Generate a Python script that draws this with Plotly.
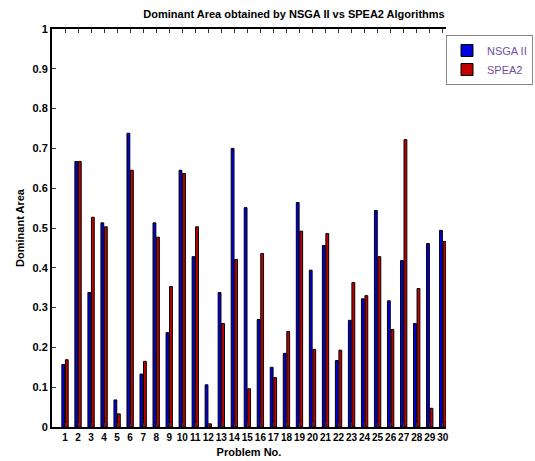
import plotly.graph_objects as go

problems = list(range(1, 31))
nsga2 = [0.157, 0.667, 0.338, 0.513, 0.068, 0.738, 0.133, 0.513, 0.237, 0.645,
         0.428, 0.106, 0.338, 0.700, 0.551, 0.270, 0.150, 0.185, 0.564, 0.394,
         0.456, 0.167, 0.268, 0.322, 0.544, 0.317, 0.418, 0.260, 0.461, 0.494]
spea2 = [0.169, 0.667, 0.527, 0.503, 0.033, 0.645, 0.165, 0.477, 0.353, 0.637,
         0.503, 0.008, 0.260, 0.421, 0.096, 0.436, 0.124, 0.240, 0.492, 0.195,
         0.486, 0.193, 0.363, 0.330, 0.428, 0.245, 0.722, 0.348, 0.047, 0.466]
y_ticks = [0, 0.1, 0.2, 0.3, 0.4, 0.5, 0.6, 0.7, 0.8, 0.9, 1]

FONT = "Liberation Sans"

fig = go.Figure()
fig.add_trace(go.Bar(x=problems, y=nsga2, name="NSGA II",
                     marker=dict(color="#0000DD", line=dict(color="#000000", width=1))))
fig.add_trace(go.Bar(x=problems, y=spea2, name="SPEA2",
                     marker=dict(color="#C00000", line=dict(color="#000000", width=1))))

fig.update_layout(
    width=535, height=461,
    margin=dict(l=52, r=0, t=29, b=34),
    paper_bgcolor="white", plot_bgcolor="white",
    barmode="group", bargap=0.46, bargroupgap=0.2,
    font=dict(family=FONT, color="black"),
    title=dict(text="<b>Dominant Area obtained by NSGA II vs SPEA2 Algorithms</b>",
               x=294 / 535, xanchor="center", y=1 - 14 / 461, yanchor="middle",
               font=dict(size=11, family=FONT)),
    showlegend=True,
    legend=dict(xref="container", yref="container",
                x=446 / 535, y=1 - 35 / 461, xanchor="left", yanchor="top",
                bgcolor="white", bordercolor="#888888", borderwidth=1,
                font=dict(size=11, color="#7050A0", family=FONT),
                tracegroupgap=0, itemwidth=30),
    xaxis=dict(range=[0, 30.25], tickmode="array", tickvals=problems,
               ticktext=[f"<b>{p}</b>" for p in problems],
               tickfont=dict(size=10, family=FONT), tickangle=0,
               ticks="inside", ticklen=4, tickcolor="#333333",
               showline=True, linecolor="black", linewidth=2, mirror="ticks",
               showgrid=False, zeroline=False, automargin=False,
               title=dict(text="<b>Problem No.</b>", font=dict(size=11), standoff=6)),
    yaxis=dict(range=[0, 1], tickmode="array", tickvals=y_ticks,
               ticktext=[f"<b>{v:g}</b>" for v in y_ticks],
               tickfont=dict(size=11, family=FONT),
               ticks="inside", ticklen=4, tickcolor="#333333",
               showline=True, linecolor="black", linewidth=2,
               showgrid=False, zeroline=False, automargin=False,
               title=dict(text="<b>Dominant Area</b>", font=dict(size=11), standoff=6)),
)

fig.write_html("out.html")
